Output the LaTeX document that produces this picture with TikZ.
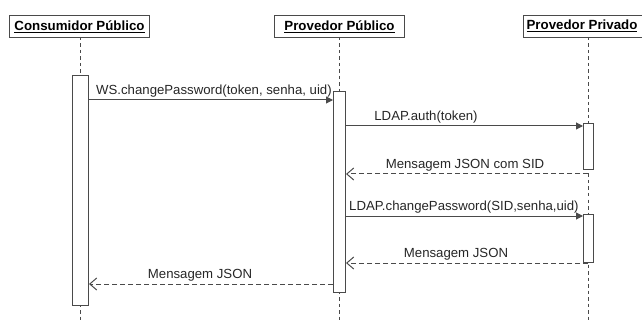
\documentclass[tikz,border=0pt]{standalone}
\usepackage{fontspec}
\setmainfont{Liberation Sans}
\usetikzlibrary{arrows.meta}
\definecolor{ln}{HTML}{4a4a4a}
\tikzset{
  head/.style={draw=ln, line width=1pt, fill=white, inner sep=0pt, anchor=north west},
  headtxt/.style={font=\bfseries\fontsize{13.3}{15}\selectfont},
  life/.style={draw=ln, line width=1pt, dash pattern=on 3.5pt off 3pt},
  act/.style={draw=ln, line width=1pt, fill=white},
  call/.style={draw=ln, line width=1pt, -{Triangle[length=7pt,width=7pt]}},
  ret/.style={draw=ln, line width=1pt, dash pattern=on 5pt off 3pt, -{Straight Barb[length=7pt,width=12pt]}},
  lbl/.style={font=\fontsize{13.2}{15}\selectfont, text=black!85, inner sep=1pt}
}
\begin{document}
\begin{tikzpicture}[x=1pt,y=-1pt]
\useasboundingbox (0,0) rectangle (642,323);
% participants
\node[head, minimum width=140pt, minimum height=22pt] (cbox) at (9,15) {};
\node[headtxt] at (cbox.center) {\underline{Consumidor Público}};
\node[head, minimum width=130pt, minimum height=22pt] (pbox) at (274,15) {};
\node[headtxt] at (pbox.center) {\underline{Provedor Público}};
\node[head, minimum width=125pt, minimum height=22pt] (vbox) at (523,15) {};
\node[headtxt, anchor=east] at (641,26) {\underline{Provedor Privado}};
% lifelines
\coordinate (cl0) at (80,37);  \coordinate (cl1) at (80,323);
\coordinate (pl0) at (339,37); \coordinate (pl1) at (339,323);
\coordinate (vl0) at (588,37); \coordinate (vl1) at (588,323);
\draw[life] (cl0) -- (cl1);
\draw[life] (pl0) -- (pl1);
\draw[life] (vl0) -- (vl1);
% activations
\draw[act] (72,76) rectangle (88,305);
\draw[act] (333,92) rectangle (345,292);
\draw[act] (583,124) rectangle (593,170);
\draw[act] (583,214) rectangle (593,262);
% messages
\coordinate (m1a) at (88,100);  \coordinate (m1b) at (333,100);
\draw[call] (m1a) -- (m1b);
\node[lbl, anchor=south west] at (95,98) {WS.changePassword(token, senha, uid)};
\coordinate (m2a) at (345,126); \coordinate (m2b) at (583,126);
\draw[call] (m2a) -- (m2b);
\node[lbl, anchor=south] at (426,124) {LDAP.auth(token)};
\coordinate (m3a) at (588,174); \coordinate (m3b) at (346,174);
\draw[ret] (m3a) -- (m3b);
\node[lbl, anchor=south] at (465,172) {Mensagem JSON com SID};
\coordinate (m4a) at (345,216); \coordinate (m4b) at (583,216);
\draw[call] (m4a) -- (m4b);
\node[lbl, anchor=south west] at (348,214) {LDAP.changePassword(SID,senha,uid)};
\coordinate (m5a) at (588,263); \coordinate (m5b) at (346,263);
\draw[ret] (m5a) -- (m5b);
\node[lbl, anchor=south] at (456,261) {Mensagem JSON};
\coordinate (m6a) at (333,284); \coordinate (m6b) at (89,284);
\draw[ret] (m6a) -- (m6b);
\node[lbl, anchor=south] at (200,282) {Mensagem JSON};
\end{tikzpicture}
\end{document}
